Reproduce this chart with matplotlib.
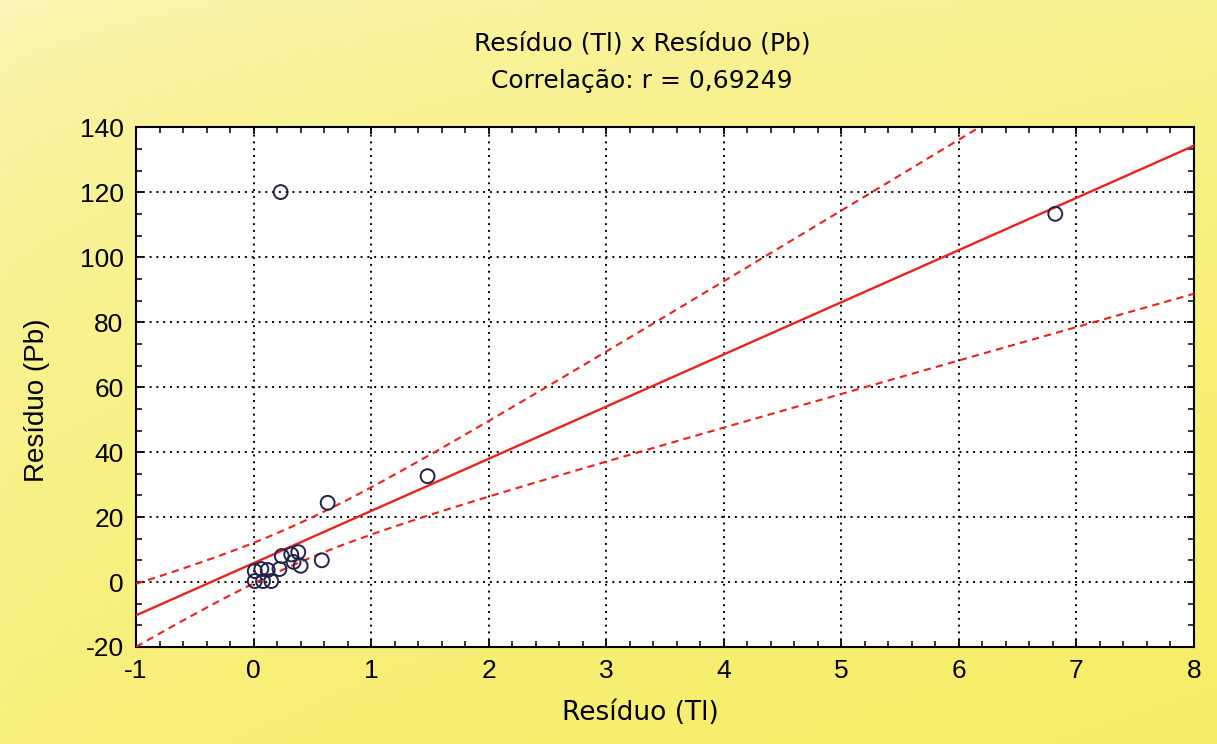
import numpy as np
import matplotlib
matplotlib.use("Agg")
import matplotlib.pyplot as plt
from matplotlib.ticker import MultipleLocator, AutoMinorLocator, FuncFormatter

# ---- data ----
res_tl = [0.01, 0.066, 0.12, 0.01, 0.08, 0.15, 0.22, 0.24, 0.32, 0.38,
          0.34, 0.40, 0.58, 0.63, 0.23, 1.48, 6.82]
res_pb = [3.4, 4.0, 3.7, 0.3, 0.3, 0.3, 4.0, 8.0, 8.5, 9.2,
          6.2, 5.0, 6.7, 24.4, 120.1, 32.6, 113.4]
# regression line and 95% confidence band
reg_intercept = 5.82
reg_slope = 16.07
band_center = 0.3
band_min_half = 6.0
band_growth = 5.87

title_lines = ["Resíduo (Tl) x Resíduo (Pb)", "Correlação: r = 0,69249"]
xlabel = "Resíduo (Tl)"
ylabel = "Resíduo (Pb)"
xlim = (-1, 8)
ylim = (-20, 140)

plt.rcParams['font.family'] = ['Liberation Sans', 'DejaVu Sans']

x = np.array(res_tl)
y = np.array(res_pb)
xs = np.linspace(xlim[0], xlim[1], 300)
fit = reg_intercept + reg_slope * xs
half = np.sqrt(band_min_half ** 2 + band_growth ** 2 * (xs - band_center) ** 2)

fig = plt.figure(figsize=(12.17, 7.44), dpi=100)
# background gradient
bg = fig.add_axes([0, 0, 1, 1], zorder=-10)
gy = np.linspace(0, 1, 256)[:, None]
gx = np.linspace(0, 1, 256)[None, :]
g = np.clip(0.55 * gy + 0.25 * gx + 0.2 * np.sqrt(gx * gy), 0, 1) ** 0.5
top = np.array([0.985, 0.965, 0.74])
bot = np.array([0.965, 0.93, 0.40])
img = top[None, None, :] * (1 - g[..., None]) + bot[None, None, :] * g[..., None]
bg.imshow(img, aspect='auto', extent=[0, 1, 0, 1], origin='upper')
bg.axis('off')

ax = fig.add_axes([0.1118, 0.1304, 0.8693, 0.6983])
ax.set_facecolor('white')
red = '#e8231e'
ax.plot(xs, fit, color=red, lw=1.7, zorder=3)
ax.plot(xs, fit + half, color=red, lw=1.5, ls=(0, (3.5, 2.5)), zorder=3)
ax.plot(xs, fit - half, color=red, lw=1.5, ls=(0, (3.5, 2.5)), zorder=3)
ax.scatter(x, y, s=100, facecolors='none', edgecolors='#22224a', linewidths=1.4, zorder=4)

ax.set_xlim(*xlim)
ax.set_ylim(*ylim)
ax.xaxis.set_major_locator(MultipleLocator(1))
ax.yaxis.set_major_locator(MultipleLocator(20))
ax.xaxis.set_minor_locator(AutoMinorLocator(5))
ax.yaxis.set_minor_locator(AutoMinorLocator(3))
fmt = FuncFormatter(lambda v, p: f"{v:.0f}".replace("\u2212", "-"))
ax.xaxis.set_major_formatter(fmt)
ax.yaxis.set_major_formatter(fmt)
ax.grid(True, which='major', color='black', ls=(0, (1, 2.5)), lw=1.4)
ax.tick_params(which='both', direction='in', top=True, right=True, color='black')
ax.tick_params(which='major', length=5, width=1.3, labelsize=19, pad=9)
ax.tick_params(which='minor', length=4, width=1.1)
for sp in ax.spines.values():
    sp.set_linewidth(1.5)

ax.set_xlabel(xlabel, fontsize=19, labelpad=12, x=0.477, family=['DejaVu Sans'])
ax.set_ylabel(ylabel, fontsize=20, labelpad=21, y=0.475)
fig.text(0.5275, 0.942, title_lines[0], ha='center', va='center', fontsize=18,
         family=['DejaVu Sans'])
fig.text(0.5275, 0.891, title_lines[1], ha='center', va='center', fontsize=18,
         family=['DejaVu Sans'])

fig.savefig("out.png", dpi=100)
